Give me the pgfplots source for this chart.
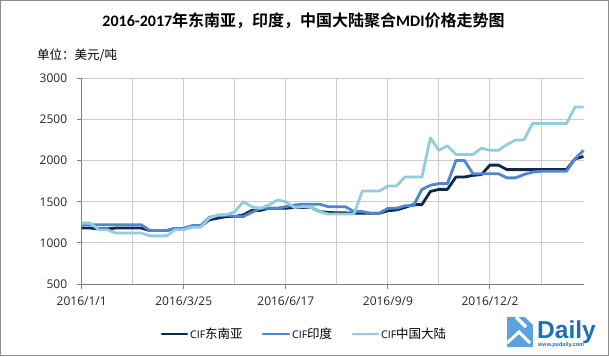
\documentclass[border=0pt]{standalone}
\usepackage{pgfplots}
\pgfplotsset{compat=1.18}
\usepackage{fontspec}
\setmainfont{Open Sans}
\newfontfamily\lib{Liberation Sans}
\newfontfamily\cjk{Noto Sans CJK SC}
\newfontfamily\cjkb{Noto Sans CJK SC Bold}
\newfontfamily\carlb{Carlito Bold}
\definecolor{navy}{HTML}{10284A}
\definecolor{midb}{HTML}{4F86D0}
\definecolor{lightb}{HTML}{92CDDF}
\definecolor{logob}{HTML}{5BA3DA}
\definecolor{logot}{HTML}{1E6FB5}
\begin{document}
\begin{tikzpicture}[x=1pt,y=1pt]
\useasboundingbox (0,0) rectangle (609,356);
\fill[white] (0,0) rectangle (609,356);
\draw[color=black!45,line width=1.4pt] (0.7,0.7) rectangle (608.3,355.3);
\begin{axis}[
  at={(81.7pt,72pt)},anchor=origin,
  scale only axis,width=501.8pt,height=205.7pt,
  xmin=0,xmax=59,ymin=500,ymax=3000,
  axis lines=left,axis line style={color=black!50,line width=0.9pt,-},
  xtick={0,12,24,36,48},
  xticklabels={2016/1/1,2016/3/25,2016/6/17,2016/9/9,2016/12/2},
  minor xtick={6,18,30,42,54},
  ytick={500,1000,1500,2000,2500,3000},
  grid=both,
  grid style={color=black!20,line width=0.9pt},
  minor grid style={color=black!20,line width=0.9pt},
  tick style={color=black!50,line width=0.9pt},
  major tick length=5pt,minor tick length=0pt,
  tick align=outside,
  xtick pos=bottom,ytick pos=left,
  ticklabel style={font=\fontsize{12}{14}\selectfont,text=black!85},
  /pgf/number format/assume math mode=true,
  /pgf/number format/1000 sep={},
  xticklabel style={yshift=-4.5pt},
  yticklabel style={xshift=-6pt},
  clip=false,
  every axis plot/.append style={line width=2.8pt,line join=round,no markers},
]
\addplot[navy] coordinates {(0,1180)(1,1180)(2,1170)(3,1170)(4,1180)(5,1180)(6,1180)(7,1180)(8,1150)(9,1150)(10,1150)(11,1175)(12,1175)(13,1200)(14,1200)(15,1280)(16,1300)(17,1320)(18,1320)(19,1340)(20,1395)(21,1395)(22,1420)(23,1420)(24,1420)(25,1430)(26,1430)(27,1430)(28,1380)(29,1370)(30,1365)(31,1365)(32,1360)(33,1360)(34,1360)(35,1360)(36,1390)(37,1400)(38,1430)(39,1465)(40,1465)(41,1625)(42,1650)(43,1650)(44,1800)(45,1800)(46,1820)(47,1830)(48,1945)(49,1945)(50,1890)(51,1890)(52,1890)(53,1890)(54,1890)(55,1890)(56,1890)(57,1890)(58,2020)(59,2050)};
\addplot[midb] coordinates {(0,1220)(1,1220)(2,1220)(3,1220)(4,1220)(5,1220)(6,1220)(7,1220)(8,1150)(9,1150)(10,1150)(11,1175)(12,1175)(13,1210)(14,1210)(15,1310)(16,1330)(17,1340)(18,1320)(19,1320)(20,1370)(21,1420)(22,1420)(23,1420)(24,1440)(25,1460)(26,1470)(27,1470)(28,1470)(29,1440)(30,1440)(31,1440)(32,1380)(33,1380)(34,1360)(35,1360)(36,1420)(37,1420)(38,1450)(39,1450)(40,1650)(41,1700)(42,1720)(43,1720)(44,2000)(45,2000)(46,1840)(47,1840)(48,1840)(49,1840)(50,1790)(51,1790)(52,1830)(53,1860)(54,1870)(55,1870)(56,1870)(57,1870)(58,2020)(59,2125)};
\addplot[lightb] coordinates {(0,1240)(1,1240)(2,1160)(3,1160)(4,1120)(5,1120)(6,1120)(7,1120)(8,1085)(9,1085)(10,1085)(11,1160)(12,1160)(13,1190)(14,1190)(15,1300)(16,1340)(17,1340)(18,1380)(19,1500)(20,1440)(21,1420)(22,1460)(23,1520)(24,1500)(25,1430)(26,1440)(27,1430)(28,1380)(29,1350)(30,1350)(31,1350)(32,1350)(33,1630)(34,1630)(35,1630)(36,1690)(37,1690)(38,1800)(39,1800)(40,1800)(41,2275)(42,2125)(43,2180)(44,2075)(45,2075)(46,2075)(47,2150)(48,2125)(49,2125)(50,2195)(51,2250)(52,2250)(53,2450)(54,2450)(55,2450)(56,2450)(57,2450)(58,2650)(59,2650)};
\end{axis}
% title and unit
\node[anchor=center] at (303.5,335) {\fontsize{16}{19}\selectfont{\carlb 2016-2017}{\cjkb 年东南亚，印度，中国大陆聚合}{\carlb MDI}{\cjkb 价格走势图}};
\node[anchor=west,inner sep=0pt] at (37,300.5) {\fontsize{12.5}{15}\selectfont\cjk 单位：美元/吨};
% legend
\draw[navy,line width=2.8pt,line cap=round] (162,22) -- (187,22);
\node[anchor=west,inner sep=0pt] at (190,22) {\fontsize{10.5}{13}\selectfont CIF\fontsize{12.5}{13}\selectfont\cjk 东南亚};
\draw[midb,line width=2.8pt,line cap=round] (263,22) -- (289,22);
\node[anchor=west,inner sep=0pt] at (292,22) {\fontsize{10.5}{13}\selectfont CIF\fontsize{12.5}{13}\selectfont\cjk 印度};
\draw[lightb,line width=2.8pt,line cap=round] (353,22) -- (378,22);
\node[anchor=west,inner sep=0pt] at (381,22) {\fontsize{10.5}{13}\selectfont CIF\fontsize{12.5}{13}\selectfont\cjk 中国大陆};
% logo
\fill[logob] (507,9) rectangle (533,39);
\draw[white,line width=3pt,miter limit=10] (507,13) -- (519,24) -- (530,13);
\draw[white,line width=3.5pt] (516,39) -- (526,29);
\fill[white] (525,39) -- (533,31) -- (533,39) -- cycle;
\node[anchor=west,inner sep=0pt] at (537,24) {\lib\fontsize{24.5}{28}\selectfont\bfseries\color{logot}Daily};
\node[anchor=west,inner sep=0pt] at (538,11) {\lib\fontsize{5.5}{6}\selectfont\bfseries\color{logot}www.pudaily.com};
\end{tikzpicture}
\end{document}
